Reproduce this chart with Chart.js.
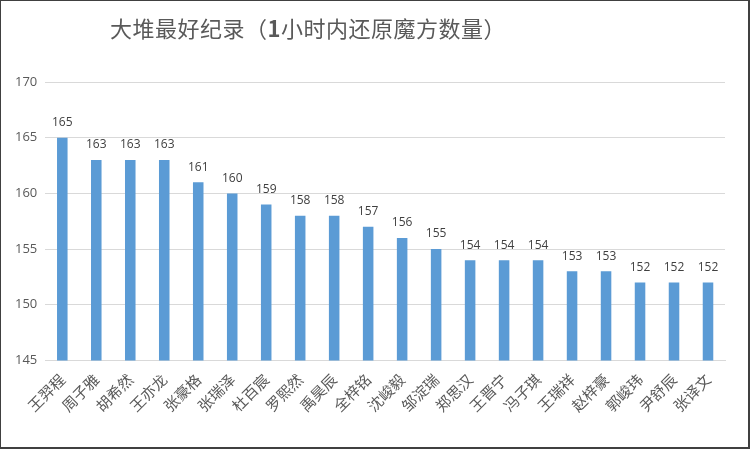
<!DOCTYPE html>
<html>
<head>
<meta charset="utf-8">
<script src="https://cdn.jsdelivr.net/npm/chart.js@4/dist/chart.umd.min.js"></script>
<style>
  html, body { margin: 0; padding: 0; background: #fff; }
  #wrap { position: relative; width: 750px; height: 449px; box-sizing: border-box; border: 1px solid #404040; border-right-width: 2px; border-bottom-width: 2px; background: #fff; overflow: hidden; }
  #title { position: absolute; left: 109px; top: 10px; font-family: "Noto Sans CJK SC", sans-serif; font-size: 22px; color: #595959; white-space: nowrap; letter-spacing: 0.5px; }
  #title b { font-weight: bold; }
  canvas { position: absolute; left: 0; top: 0; }
</style>
</head>
<body>
<div id="wrap">
  <canvas id="c" width="747" height="446"></canvas>
  <div id="title">大堆最好纪录（<b>1</b>小时内还原魔方数量）</div>
</div>
<script>
const categories = ["王羿程","周子雅","胡希然","王亦龙","张豪格","张瑞泽","杜百宸","罗熙然","禹昊辰","全梓铭","沈峻毅","邹淀瑞","郑思汉","王晋宁","冯子琪","王瑞祥","赵梓豪","郭峻玮","尹舒辰","张译文"];
const values = [165,163,163,163,161,160,159,158,158,157,156,155,154,154,154,153,153,152,152,152];
const yTicks = [145,150,155,160,165,170];

const valueLabels = {
  id: 'valueLabels',
  afterDatasetsDraw(chart) {
    const ctx = chart.ctx;
    const meta = chart.getDatasetMeta(0);
    ctx.save();
    ctx.font = '12px "Open Sans", sans-serif';
    ctx.fillStyle = '#404040';
    ctx.textAlign = 'center';
    ctx.textBaseline = 'bottom';
    meta.data.forEach((bar, i) => {
      ctx.fillText(String(values[i]), bar.x, bar.y - 9);
    });
    ctx.restore();
  }
};

new Chart(document.getElementById('c'), {
  type: 'bar',
  data: {
    labels: categories,
    datasets: [{
      data: values,
      backgroundColor: '#5B9BD5',
      borderWidth: 0,
      categoryPercentage: 1,
      barPercentage: 0.31
    }]
  },
  options: {
    responsive: false,
    animation: false,
    devicePixelRatio: 1,
    layout: { padding: { top: 81, left: 6, right: 23, bottom: 30 } },
    plugins: { legend: { display: false }, tooltip: { enabled: false }, title: { display: false } },
    scales: {
      x: {
        grid: { display: false },
        border: { display: true, color: '#d9d9d9' },
        ticks: {
          maxRotation: 45, minRotation: 45,
          color: '#595959',
          font: { family: '"Noto Sans CJK SC", sans-serif', size: 15 },
          padding: 2
        }
      },
      y: {
        min: 145, max: 170,
        afterBuildTicks(scale) { scale.ticks = yTicks.map(v => ({ value: v })); },
        grid: { color: '#d9d9d9', lineWidth: 1, drawTicks: false },
        border: { display: false },
        ticks: {
          color: '#595959',
          font: { family: '"Open Sans", sans-serif', size: 13 },
          padding: 8
        }
      }
    }
  },
  plugins: [valueLabels]
});
</script>
</body>
</html>
